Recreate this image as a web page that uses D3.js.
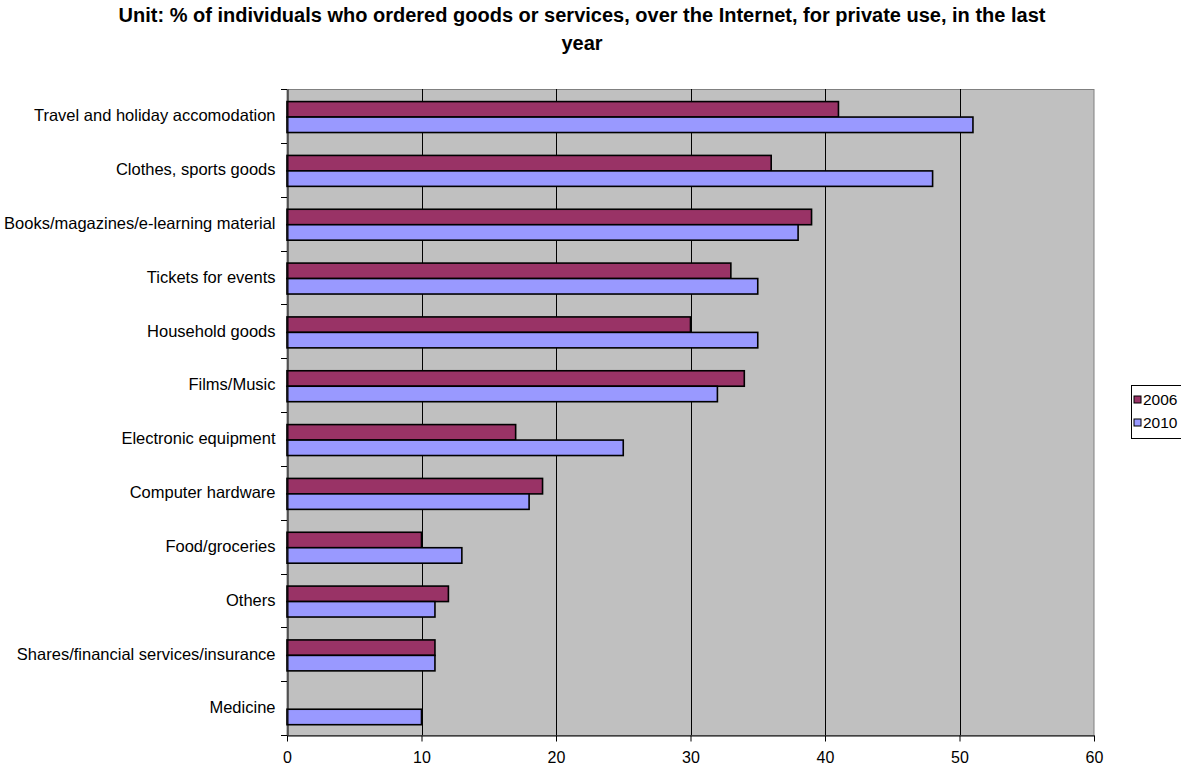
<!DOCTYPE html>
<html><head><meta charset="utf-8">
<script src="https://cdn.jsdelivr.net/npm/d3@7"></script>
<style>body{margin:0;background:#fff;}svg{display:block;font-family:"Liberation Sans",Arial,sans-serif;}</style>
</head><body>
<svg id="c" width="1181" height="767"></svg>
<script>
const categories = ["Travel and holiday accomodation","Clothes, sports goods","Books/magazines/e-learning material","Tickets for events","Household goods","Films/Music","Electronic equipment","Computer hardware","Food/groceries","Others","Shares/financial services/insurance","Medicine"];
const series2006 = [41,36,39,33,30,34,17,19,10,12,11,0];
const series2010 = [51,48,38,35,35,32,25,18,13,11,11,10];
const seriesNames = ["2006","2010"];
const seriesColors = ["#993366","#9999FF"];
const xTicks = [0,10,20,30,40,50,60];
const titleLines = ["Unit: % of individuals who ordered goods or services, over the Internet, for private use, in the last","year"];

const svg = d3.select("#c");
const L=287, R=1094, T=89, B=735;
const x = d3.scaleLinear().domain([0,60]).range([L,R]);
const y = d3.scaleBand().domain(categories).range([T,B]).paddingInner(0).paddingOuter(0);
const inner = d3.scaleBand().domain(seriesNames).range([0,y.bandwidth()]).paddingOuter(0.74).paddingInner(0).align(0.55);

svg.append("rect").attr("x",L).attr("y",T+0.5).attr("width",R-L).attr("height",B-T).attr("fill","#C0C0C0").attr("stroke","#808080").attr("stroke-width",1);

// gridlines
svg.append("g").selectAll("line").data(xTicks.slice(1,-1)).join("line")
  .attr("x1",d=>Math.round(x(d))+0.5).attr("x2",d=>Math.round(x(d))+0.5).attr("y1",T).attr("y2",B)
  .attr("stroke","#000").attr("stroke-width",1);

// title
svg.append("g").selectAll("text").data(titleLines).join("text")
  .attr("x",582).attr("y",(d,i)=>22+i*28).attr("text-anchor","middle")
  .attr("font-size","20px").attr("font-weight","bold").text(d=>d);

// bars
const data = categories.map((c,i)=>({c, vals:[{s:"2006",v:series2006[i],col:seriesColors[0]},{s:"2010",v:series2010[i],col:seriesColors[1]}]}));
const g = svg.append("g").selectAll("g").data(data).join("g").attr("transform",d=>`translate(0,${y(d.c)})`);
g.selectAll("rect").data(d=>d.vals.filter(v=>v.v>0)).join("rect")
  .attr("x",x(0)).attr("y",d=>inner(d.s)).attr("width",d=>x(d.v)-x(0)).attr("height",inner.bandwidth())
  .attr("fill",d=>d.col).attr("stroke","#000").attr("stroke-width",1.6);

// y axis
const yAxis = d3.axisLeft(y).tickSize(0).tickPadding(12);
const ya = svg.append("g").attr("transform",`translate(${L+0.5},0)`).call(yAxis);
ya.select(".domain").attr("stroke","#000");
ya.selectAll("text").attr("font-size","16.5px").attr("fill","#000").attr("font-family","Liberation Sans, Arial, sans-serif");
// y tick marks at band boundaries
const bounds = categories.map(c=>y(c)).concat([B]);
svg.append("g").selectAll("line").data(bounds).join("line")
  .attr("x1",L-6).attr("x2",L).attr("y1",d=>Math.round(d)+0.5).attr("y2",d=>Math.round(d)+0.5).attr("stroke","#000");

// x axis
const xAxis = d3.axisBottom(x).tickValues(xTicks).tickSizeInner(6).tickSizeOuter(0).tickPadding(10);
const xa = svg.append("g").attr("transform",`translate(0,${B+0.5})`).call(xAxis);
xa.select(".domain").attr("stroke","#000");
xa.selectAll("text").attr("font-size","16px").attr("fill","#000").attr("font-family","Liberation Sans, Arial, sans-serif");

// legend
const lg = svg.append("g").attr("transform","translate(1131,385)");
lg.append("rect").attr("x",0.5).attr("y",0.5).attr("width",60).attr("height",53).attr("fill","#fff").attr("stroke","#000");
const li = lg.selectAll("g").data(seriesNames).join("g").attr("transform",(d,i)=>`translate(3,${11+i*23})`);
li.append("rect").attr("width",7).attr("height",7).attr("fill",(d,i)=>seriesColors[i]).attr("stroke","#000");
li.append("text").attr("x",9).attr("y",9).attr("font-size","15.5px").text(d=>d);
</script>
</body></html>
